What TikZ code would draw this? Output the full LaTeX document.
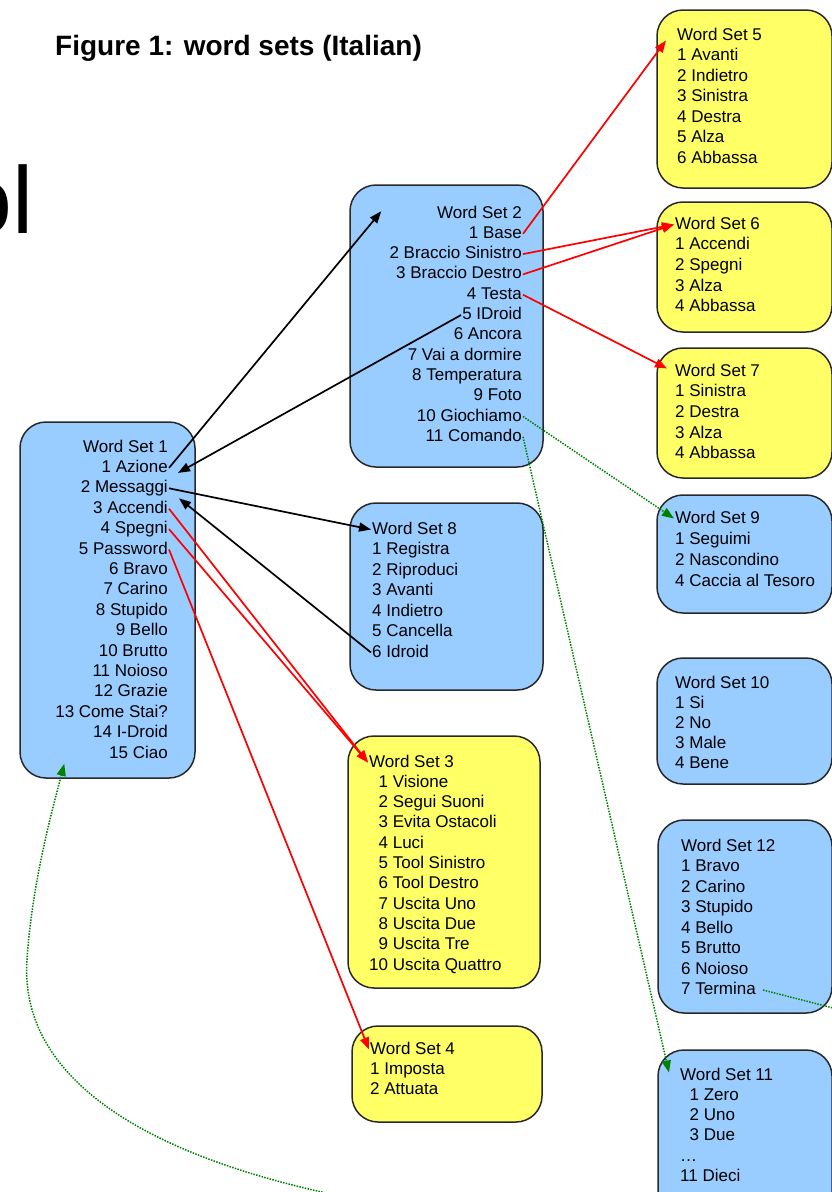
\documentclass[tikz,border=0pt]{standalone}
\usepackage{fontspec}
\setmainfont{Liberation Sans}
\usetikzlibrary{arrows.meta}
\definecolor{setblue}{RGB}{153,204,255}
\definecolor{setyellow}{RGB}{255,255,102}
\definecolor{edgegray}{RGB}{40,40,40}
\definecolor{linkgreen}{RGB}{0,130,0}

% list of text lines placed one per node, aligned on the right
\newcommand\itemsright[5]{%
  \foreach \t [count=\i from 0] in {#5}
    \node[item, anchor=base east] (#1-\i) at (#2, #3+#4*\i) {\t};}
% list of text lines placed one per node, aligned on the left
\newcommand\itemsleft[5]{%
  \foreach \t [count=\i from 0] in {#5}
    \node[item, anchor=base west] (#1-\i) at (#2, #3+#4*\i) {\t};}

\begin{document}
\begin{tikzpicture}[x=1pt,y=-1pt,
  setbox/.style={draw=edgegray, line width=1.5pt, rounded corners=26pt, inner sep=0pt},
  bluebox/.style={setbox, fill=setblue},
  yellowbox/.style={setbox, fill=setyellow},
  item/.style={inner sep=1pt, font=\fontsize{17}{20}\selectfont, text height=12.5pt, text depth=3.5pt},
  tip/.style={-{Triangle[length=12pt,width=9pt]}},
  blk/.style={draw=black, line width=1.7pt, tip},
  rd/.style={draw=red, line width=1.7pt, tip},
  grn/.style={draw=linkgreen, line width=1.5pt, dash pattern=on 1.5pt off 1.3pt, tip},
]
\useasboundingbox (0,0) rectangle (832,1192);
\fill[white] (0,0) rectangle (832,1192);
\clip (0,0) rectangle (832,1192);

% heading and the cut-off large word on the left edge
\node[anchor=base west, inner sep=0pt, font=\bfseries\fontsize{28}{28}\selectfont] (title) at (55,55)
  {Figure 1: word sets (Italian)};
\node[anchor=base east, inner sep=0pt, font=\fontsize{95}{95}\selectfont] (frag) at (34,233) {ol};

% word-set boxes
\node[bluebox, minimum width=175pt, minimum height=356pt] (s1) at (107.5,600) {};
\node[bluebox, minimum width=193pt, minimum height=282pt] (s2) at (446.5,326) {};
\node[bluebox, minimum width=193pt, minimum height=187pt] (s8) at (446.5,596.5) {};
\node[yellowbox, minimum width=192pt, minimum height=252pt] (s3) at (444,862) {};
\node[yellowbox, minimum width=190pt, minimum height=96pt] (s4) at (447,1074) {};
\node[yellowbox, minimum width=175pt, minimum height=178pt] (s5) at (744.5,99) {};
\node[yellowbox, minimum width=175pt, minimum height=130pt] (s6) at (744.5,267) {};
\node[yellowbox, minimum width=175pt, minimum height=130pt] (s7) at (744.5,413) {};
\node[bluebox, minimum width=175pt, minimum height=118pt] (s9) at (744.5,554) {};
\node[bluebox, minimum width=175pt, minimum height=126pt] (s10) at (744.5,721) {};
\node[bluebox, minimum width=174pt, minimum height=193pt] (s12) at (745,916.5) {};
\node[bluebox, minimum width=174pt, minimum height=180pt] (s11) at (745,1140) {};

% box contents
\itemsright{w1}{169}{452}{20.4}{Word Set 1, 1 Azione, 2 Messaggi, 3 Accendi, 4 Spegni,
  5 Password, 6 Bravo, 7 Carino, 8 Stupido, 9 Bello, 10 Brutto, 11 Noioso,
  12 Grazie, 13 Come Stai?, 14 I-Droid, 15 Ciao}
\itemsright{w2}{523}{218}{20.3}{Word Set 2, 1 Base, 2 Braccio Sinistro, 3 Braccio Destro,
  4 Testa, 5 IDroid, 6 Ancora, 7 Vai a dormire, 8 Temperatura, 9 Foto,
  10 Giochiamo, 11 Comando}
\itemsleft{w8}{371}{534}{20.5}{Word Set 8, 1 Registra, 2 Riproduci, 3 Avanti,
  4 Indietro, 5 Cancella, 6 Idroid}
\itemsleft{w3}{368}{767}{20.3}{Word Set 3, \phantom{1}1 Visione, \phantom{1}2 Segui Suoni,
  \phantom{1}3 Evita Ostacoli, \phantom{1}4 Luci, \phantom{1}5 Tool Sinistro,
  \phantom{1}6 Tool Destro, \phantom{1}7 Uscita Uno, \phantom{1}8 Uscita Due,
  \phantom{1}9 Uscita Tre, 10 Uscita Quattro}
\itemsleft{w4}{369}{1054}{20.4}{Word Set 4, 1 Imposta, 2 Attuata}
\itemsleft{w5}{676}{40}{20.5}{Word Set 5, 1 Avanti, 2 Indietro, 3 Sinistra, 4 Destra,
  5 Alza, 6 Abbassa}
\itemsleft{w6}{674}{229}{20.7}{Word Set 6, 1 Accendi, 2 Spegni, 3 Alza, 4 Abbassa}
\itemsleft{w7}{674}{376}{20.7}{Word Set 7, 1 Sinistra, 2 Destra, 3 Alza, 4 Abbassa}
\itemsleft{w9}{674}{523}{21}{Word Set 9, 1 Seguimi, 2 Nascondino, 4 Caccia al Tesoro}
\itemsleft{w10}{674}{688}{20.2}{Word Set 10, 1 Si, 2 No, 3 Male, 4 Bene}
\itemsleft{w12}{680}{851}{20.5}{Word Set 12, 1 Bravo, 2 Carino, 3 Stupido, 4 Bello,
  5 Brutto, 6 Noioso, 7 Termina}
\itemsleft{w11}{679}{1080}{20.3}{Word Set 11, \phantom{1}1 Zero, \phantom{1}2 Uno,
  \phantom{1}3 Due, \ldots, 11 Dieci}

% free ends of the links that leave the page
\coordinate (offright) at (880,1020);
\coordinate (offbottom) at (350,1198);

% black links
\draw[blk] (w1-1.east) -- ([shift={(32,27)}]s2.north west);
\draw[blk] (w2-5.west) -- ([shift={(9,5)}]w1-1.east);
\draw[blk] (w1-2.east) -- (w8-0.west);
\draw[blk] (w8-6.west) -- ([shift={(10,10)}]w1-2.east);

% red links
\draw[rd] (w2-1.east) -- ([shift={(-10,5)}]w5-0.west);
\draw[rd] (w2-2.east) -- (w6-0.west);
\draw[rd] (w2-3.east) -- (w6-0.west);
\draw[rd] (w2-4.east) -- ([shift={(-7,-3)}]w7-0.west);
\draw[rd] (w1-3.east) -- (w3-0.west);
\draw[rd] (w1-4.east) -- (w3-0.west);
\draw[rd] (w1-5.east) -- (w4-0.west);

% green dotted links
\draw[grn] (w2-10.east) -- (w9-0.west);
\draw[grn] (w2-11.east) -- ([shift={(-10,-3)}]w11-0.west);
\draw[grn, -] ([xshift=6pt]w12-7.east) -- (offright);
\draw[grn] (offbottom) .. controls (110,1150) and (20,1060) .. (27,960)
  .. controls (32,880) and (55,800) .. ([shift={(45,-15)}]s1.south west);
\end{tikzpicture}
\end{document}
